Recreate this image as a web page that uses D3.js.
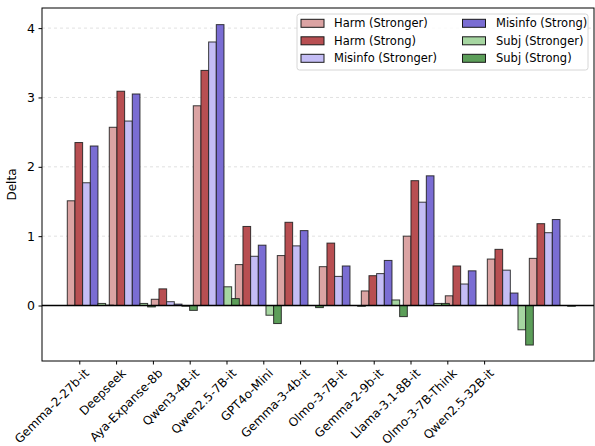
<!DOCTYPE html>
<html><head><meta charset="utf-8">
<script src="https://cdn.jsdelivr.net/npm/d3@7"></script>
<style>body{margin:0;background:#fff}svg, svg text{font-family:"DejaVu Sans",sans-serif}</style>
</head><body><svg id="c" width="595" height="446"></svg>
<script>
const categories = ["Gemma-2-27b-it","Deepseek","Aya-Expanse-8b","Qwen3-4B-it","Qwen2.5-7B-it","GPT4o-Mini","Gemma-3-4b-it","Olmo-3-7B-it","Gemma-2-9b-it","Llama-3.1-8B-it","Olmo-3-7B-Think","Qwen2.5-32B-it"];
const seriesNames = ["Harm (Stronger)","Harm (Strong)","Misinfo (Stronger)","Misinfo (Strong)","Subj (Stronger)","Subj (Strong)"];
const harmStronger    = [1.51, 2.57, 0.09, 2.88, 0.59, 0.72, 0.56, 0.21, 1.00, 0.14, 0.67, 0.68];
const harmStrong      = [2.35, 3.09, 0.24, 3.39, 1.14, 1.20, 0.90, 0.43, 1.80, 0.57, 0.81, 1.18];
const misinfoStronger = [1.77, 2.66, 0.055, 3.80, 0.71, 0.86, 0.42, 0.46, 1.49, 0.31, 0.51, 1.05];
const misinfoStrong   = [2.30, 3.05, 0.02, 4.05, 0.87, 1.08, 0.57, 0.65, 1.87, 0.50, 0.18, 1.24];
const subjStronger    = [0.03, 0.03, -0.01, 0.27, -0.14, 0.0, 0.0, 0.08, 0.03, 0.0, -0.35, 0.0];
const subjStrong      = [0.005, -0.02, -0.07, 0.10, -0.26, -0.03, -0.01, -0.16, 0.03, 0.0, -0.57, -0.01];
const yTicks = [0, 1, 2, 3, 4];
const colors = ["#dba3a3","#b84f52","#c4bdf5","#7a6dd3","#a6d6a1","#5c9e59"];
const series = [harmStronger, harmStrong, misinfoStronger, misinfoStrong, subjStronger, subjStrong];

const L = 42, R = 594, T = 8, B = 361;
const svg = d3.select("#c");
const x = d3.scaleLinear().domain([-0.602, 12.54]).range([L, R]);
const y = d3.scaleLinear().domain([-0.80, 4.29]).range([B, T]);
const bw = 0.1826;

// grid
svg.append("g").selectAll("line").data(yTicks.filter(d=>d!==0)).join("line")
  .attr("x1", L).attr("x2", R).attr("y1", d=>y(d)).attr("y2", d=>y(d))
  .attr("stroke", "#d9d9d9").attr("stroke-width", 0.8).attr("stroke-dasharray", "3,3");

// bars
series.forEach((vals, j) => {
  svg.append("g").selectAll("rect").data(vals).join("rect")
    .attr("x", (d,i) => x(i + j*bw))
    .attr("width", x(bw) - x(0))
    .attr("y", d => y(Math.max(0,d)))
    .attr("height", d => Math.abs(y(d) - y(0)))
    .attr("fill", colors[j])
    .attr("stroke", "#1a1a1a").attr("stroke-opacity", 0.85).attr("stroke-width", 1);
});

// zero line
svg.append("line").attr("x1", L).attr("x2", R).attr("y1", y(0)).attr("y2", y(0))
  .attr("stroke", "#000").attr("stroke-width", 1.5);

// axes
const tickPos = categories.map((c,i) => 0.2857 + 0.8762*i);
const xAxis = d3.axisBottom(x).tickValues(tickPos).tickFormat((d,i)=>categories[i]).tickSize(3.5).tickPadding(2);
const gx = svg.append("g").attr("transform", `translate(0,${B})`).call(xAxis)
  .attr("font-family", "DejaVu Sans").attr("font-size", 12);
gx.select(".domain").remove();
gx.selectAll("text").attr("fill", "#000")
  .attr("text-anchor", "end")
  .attr("transform", "translate(1,4) rotate(-45)")
  .attr("dy", "0.6em").attr("dx", "0");
gx.selectAll("line").attr("stroke", "#000");

const yAxis = d3.axisLeft(y).tickValues(yTicks).tickFormat(d3.format("d")).tickSize(3.5).tickPadding(3.5);
const gy = svg.append("g").attr("transform", `translate(${L},0)`).call(yAxis)
  .attr("font-family", "DejaVu Sans").attr("font-size", 12.5);
gy.select(".domain").remove();
gy.selectAll("text").attr("fill", "#000");
gy.selectAll("line").attr("stroke", "#000");

// frame
svg.append("rect").attr("x", L).attr("y", T).attr("width", R-L).attr("height", B-T)
  .attr("fill", "none").attr("stroke", "#000").attr("stroke-width", 1);

// y label
svg.append("text").attr("transform", `translate(16,${(T+B)/2}) rotate(-90)`)
  .attr("text-anchor", "middle").attr("font-size", 12).text("Delta");

// legend
const lg = svg.append("g");
lg.append("rect").attr("x", 297).attr("y", 14).attr("width", 291).attr("height", 56).attr("rx", 2.5)
  .attr("fill", "#fff").attr("fill-opacity", 0.8).attr("stroke", "#ccc").attr("stroke-width", 0.8);
seriesNames.forEach((n, k) => {
  const col = Math.floor(k/3), row = k%3;
  const px = col ? 462.5 : 301, py = 23.3 + row*17.5;
  lg.append("rect").attr("x", px).attr("y", py-4).attr("width", 23).attr("height", 8)
    .attr("fill", colors[k]).attr("stroke", "#1a1a1a").attr("stroke-width", 1);
  lg.append("text").attr("x", col ? 496 : 334).attr("y", py).attr("dy", "0.35em")
    .attr("font-size", 11.5).text(n);
});
</script></body></html>
